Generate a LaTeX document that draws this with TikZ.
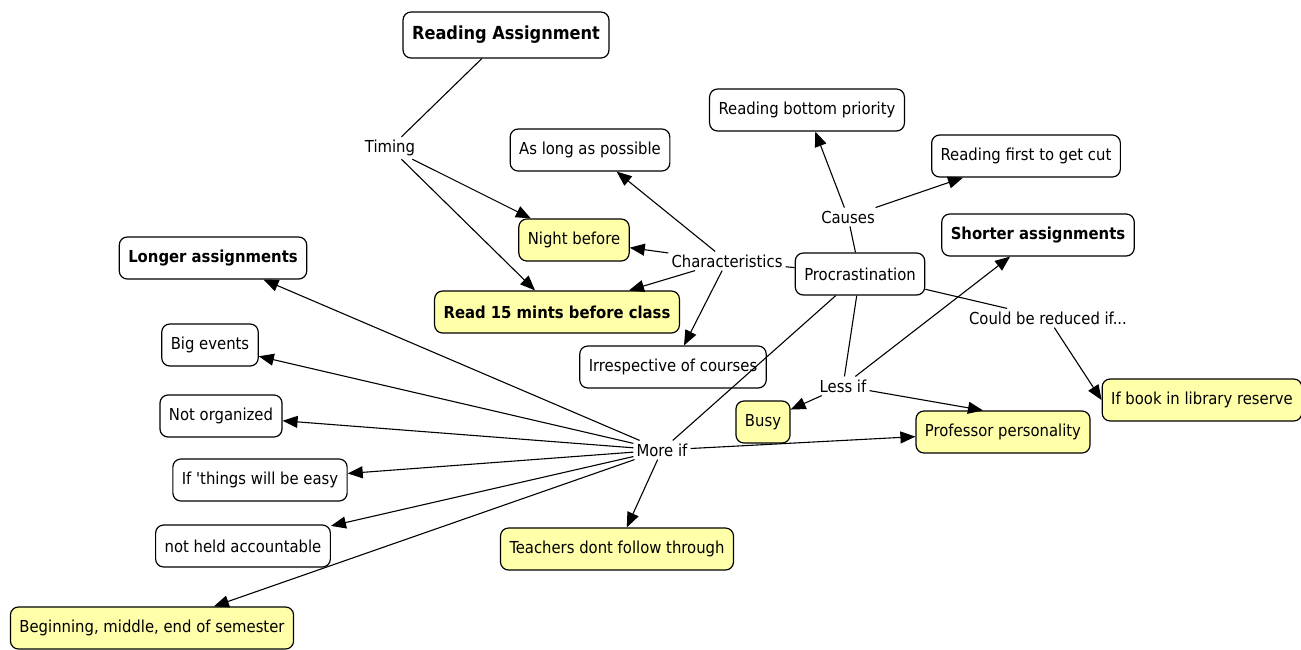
\documentclass[tikz,border=0pt]{standalone}
\usepackage{fontspec}
\setmainfont{DejaVu Sans Condensed}
\usetikzlibrary{positioning, arrows.meta}
\definecolor{conceptyellow}{RGB}{255,255,170}

\begin{document}
\begin{tikzpicture}[x=1pt, y=-1pt,
    concept/.style={draw, rounded corners=8pt, line width=1.2pt, inner xsep=9pt,
        minimum height=42pt, font=\fontsize{16.5}{19}\selectfont},
    hot/.style={concept, fill=conceptyellow},
    key/.style={font=\fontsize{16.5}{19}\selectfont\bfseries},
    link/.style={inner sep=3pt, font=\fontsize{16.5}{19}\selectfont},
    arr/.style={-{Triangle[length=15pt, width=12pt]}, line width=1.1pt},
    ln/.style={line width=1.1pt}]
    \useasboundingbox (0,0) rectangle (1301,649);

    \node[concept, minimum height=46pt, font=\fontsize{18}{21}\selectfont\bfseries] (ra) at (506,35) {Reading Assignment};
    \node[link] (timing) at (390,148) {Timing};
    \node[concept] (alap) at (590,150) {As long as possible};
    \node[concept] (rbp) at (807,110) {Reading bottom priority};
    \node[concept] (rfc) at (1026,156) {Reading first to get cut};
    \node[link] (causes) at (848,217) {Causes};
    \node[concept, key] (shorter) at (1038,235) {Shorter assignments};
    \node[concept, key] (longer) at (213,258) {Longer assignments};
    \node[hot] (night) at (574,240) {Night before};
    \node[link] (charac) at (727,261) {Characteristics};
    \node[concept] (procr) at (860,274) {Procrastination};
    \node[hot, key] (read15) at (557,312) {Read 15 mints before class};
    \node[link] (reduced) at (1048,318) {Could be reduced if...};
    \node[concept] (big) at (210,345) {Big events};
    \node[concept] (irresp) at (673,367) {Irrespective of courses};
    \node[link] (lessif) at (843,386) {Less if};
    \node[hot] (library) at (1202,400) {If book in library reserve};
    \node[concept] (notorg) at (221,416) {Not organized};
    \node[hot] (busy) at (763,422) {Busy};
    \node[hot] (prof) at (1003,432) {Professor personality};
    \node[link] (moreif) at (662,450) {More if};
    \node[concept] (easy) at (260,480) {If \textquotesingle things will be easy};
    \node[concept] (notheld) at (243,546) {not held accountable};
    \node[hot] (teachers) at (617,549) {Teachers dont follow through};
    \node[hot] (semester) at (152,628) {Beginning, middle, end of semester};

    \draw[ln] (ra) -- (timing);
    \draw[arr] (timing) -- (night);
    \draw[arr] (timing) -- (read15);
    \draw[ln] (procr) -- (charac);
    \draw[arr] (charac) -- (alap);
    \draw[arr] (charac) -- (night);
    \draw[arr] (charac) -- (read15);
    \draw[arr] (charac) -- (irresp);
    \draw[ln] (procr) -- (causes);
    \draw[arr] (causes) -- (rbp);
    \draw[arr] (causes) -- (rfc);
    \draw[ln] (procr) -- (reduced);
    \draw[arr] (reduced) -- (library.west);
    \draw[ln] (procr) -- (lessif);
    \draw[arr] (lessif) -- (busy);
    \draw[arr] (lessif) -- ([xshift=-20pt]prof.north);
    \draw[arr] (lessif) -- (shorter);
    \draw[ln] (procr) -- (moreif);
    \foreach \t in {longer, big, notorg, easy, notheld, semester, teachers, prof}
        \draw[arr] (moreif) -- (\t);
\end{tikzpicture}
\end{document}
